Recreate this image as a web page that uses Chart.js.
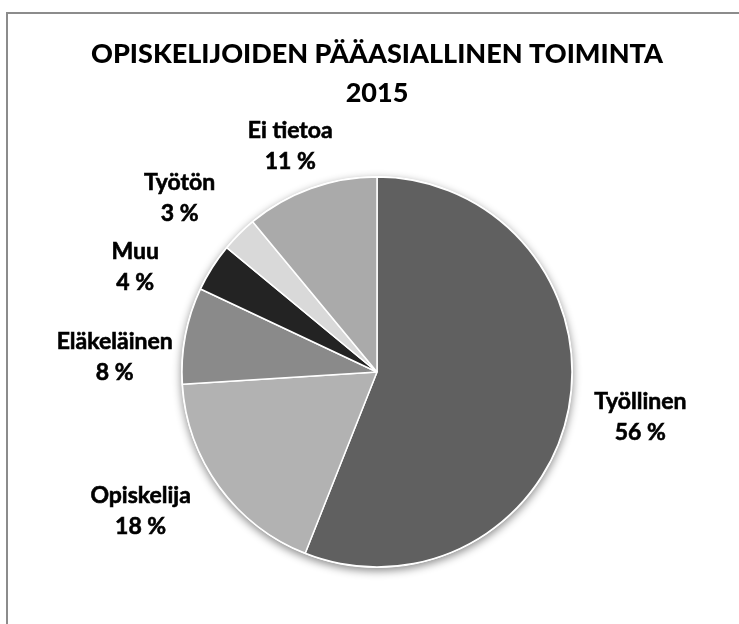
<!DOCTYPE html>
<html>
<head>
<meta charset="utf-8">
<script src="https://cdn.jsdelivr.net/npm/chart.js@4"></script>
<style>
    html, body { margin: 0; padding: 0; background: #fff; }
</style>
</head>
<body>
<canvas id="pie-chart" width="739" height="624"></canvas>
<script>
'use strict';

const categories = ['Työllinen', 'Opiskelija', 'Eläkeläinen', 'Muu', 'Työtön', 'Ei tietoa'];
const shares = [56, 18, 8, 4, 3, 11];
const sliceColors = ['#606060', '#b2b2b2', '#8a8a8a', '#232323', '#d9d9d9', '#aaaaaa'];
const titleLines = ['OPISKELIJOIDEN PÄÄASIALLINEN TOIMINTA', '2015'];

// grey frame, only top and left edges are inside the picture
const frame = {
    id: 'frame',
    beforeDraw(chart) {
        const ctx = chart.ctx;
        ctx.save();
        ctx.fillStyle = '#fff';
        ctx.fillRect(0, 0, chart.width, chart.height);
        ctx.strokeStyle = '#8c8c8c';
        ctx.lineWidth = 2;
        ctx.strokeRect(7, 13, chart.width, chart.height);
        ctx.restore();
    }
};

// soft shadow under the whole pie
const pieShadow = {
    id: 'pieShadow',
    beforeDatasetsDraw(chart) {
        const arc = chart.getDatasetMeta(0).data[0];
        if (!arc) return;
        const ctx = chart.ctx;
        ctx.save();
        ctx.shadowColor = 'rgba(0,0,0,0.45)';
        ctx.shadowBlur = 8;
        ctx.shadowOffsetY = 3;
        ctx.fillStyle = '#fff';
        ctx.beginPath();
        ctx.arc(arc.x, arc.y, arc.outerRadius + 1, 0, Math.PI * 2);
        ctx.fill();
        ctx.restore();
    }
};

// name + percent outside each slice
const sliceLabels = {
    id: 'sliceLabels',
    afterDatasetsDraw(chart, args, opts) {
        const ctx = chart.ctx;
        const meta = chart.getDatasetMeta(0);
        const total = shares.reduce((a, b) => a + b, 0);
        ctx.save();
        ctx.font = opts.font;
        ctx.fillStyle = '#000';
        ctx.strokeStyle = '#000';
        ctx.lineWidth = 0.6;
        ctx.textAlign = 'center';
        ctx.textBaseline = 'middle';
        meta.data.forEach((arc, i) => {
            const mid = (arc.startAngle + arc.endAngle) / 2;
            const nudge = opts.nudge[i] || [0, 0];
            const x = arc.x + Math.cos(mid) * (arc.outerRadius + opts.gapX) + nudge[0];
            const y = arc.y + Math.sin(mid) * (arc.outerRadius + opts.gapY) + nudge[1];
            const pct = Math.round(shares[i] / total * 100) + ' %';
            const y1 = y - opts.lineGap / 2, y2 = y + opts.lineGap / 2;
            ctx.fillText(categories[i], x, y1);
            ctx.strokeText(categories[i], x, y1);
            ctx.fillText(pct, x, y2);
            ctx.strokeText(pct, x, y2);
        });
        ctx.restore();
    }
};

const ctx = document.getElementById('pie-chart').getContext('2d');

new Chart(ctx, {
    type: 'pie',
    data: {
        labels: categories,
        datasets: [{
            data: shares,
            backgroundColor: sliceColors,
            borderColor: '#fff',
            borderWidth: 1.5,
            radius: 195
        }]
    },
    options: {
        responsive: false,
        animation: false,
        devicePixelRatio: 1,
        layout: {
            padding: { left: 30, right: 15, top: 0, bottom: 57 }
        },
        plugins: {
            legend: { display: false },
            tooltip: { enabled: false },
            title: {
                display: true,
                text: titleLines,
                color: '#000',
                font: { family: 'Lato', size: 27, weight: '900', lineHeight: 1.45 },
                padding: { top: 34.5, bottom: 64.2 }
            },
            sliceLabels: {
                font: 'bold 23px Lato',
                gapX: 70,
                gapY: 50,
                lineGap: 31,
                nudge: [[3, -1], [-22, -5], [-2, 31], [-18, 26], [-10, -1], [3, 5]]
            }
        }
    },
    plugins: [frame, pieShadow, sliceLabels]
});
</script>
</body>
</html>
